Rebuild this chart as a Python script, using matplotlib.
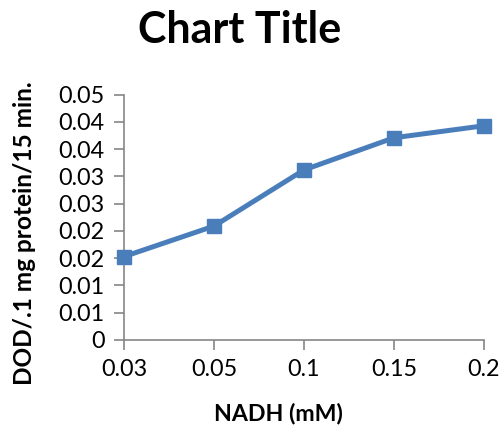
import matplotlib
matplotlib.use("Agg")
import matplotlib.pyplot as plt

# data
nadh_labels = ["0.03", "0.05", "0.1", "0.15", "0.2"]
dod_values = [0.0153, 0.0209, 0.0312, 0.0371, 0.0393]
y_ticks = [0, 0.005, 0.01, 0.015, 0.02, 0.025, 0.03, 0.035, 0.04, 0.045]
# Excel rounds the half steps up, so each label shows twice
y_tick_labels = ["0", "0.01", "0.01", "0.02", "0.02", "0.03", "0.03", "0.04", "0.04", "0.05"]

line_color = "#4a7ebb"
axis_color = "#868686"

fig = plt.figure(figsize=(5.02, 4.25), dpi=100)
ax = fig.add_axes([124 / 502, 85 / 425, 360 / 502, 245.3 / 425])

x = list(range(len(nadh_labels)))
ax.plot(x, dod_values, color=line_color, linewidth=3.6, marker="s",
        markersize=10, clip_on=False, zorder=3)

ax.set_xlim(0, len(nadh_labels) - 1)
ax.set_ylim(0, 0.045)
ax.set_xticks(x)
ax.set_xticklabels(nadh_labels, fontfamily="Lato", fontsize=16.8)
ax.set_yticks(y_ticks)
ax.set_yticklabels(y_tick_labels, fontfamily="Lato", fontsize=16.8)

for side in ["top", "right"]:
    ax.spines[side].set_visible(False)
for side in ["left", "bottom"]:
    ax.spines[side].set_color(axis_color)
    ax.spines[side].set_linewidth(1.2)
ax.tick_params(axis="both", direction="out", length=7, width=1.2,
               color=axis_color, pad=7)

fig.text(278 / 502, 1 - 413 / 425, "NADH (mM)", fontfamily="Lato",
         fontweight="bold", fontsize=16.7, ha="center", va="center")
fig.text(25 / 502, 1 - 233 / 425, "DOD/.1 mg protein/15 min.", fontfamily="Lato",
         fontweight="bold", fontsize=17.6, ha="center", va="center", rotation=90)

fig.text(240 / 502, 1 - 30 / 425, "Chart Title", fontfamily="Lato",
         fontweight="bold", fontsize=31, ha="center", va="center")

fig.savefig("out.png", dpi=100)
